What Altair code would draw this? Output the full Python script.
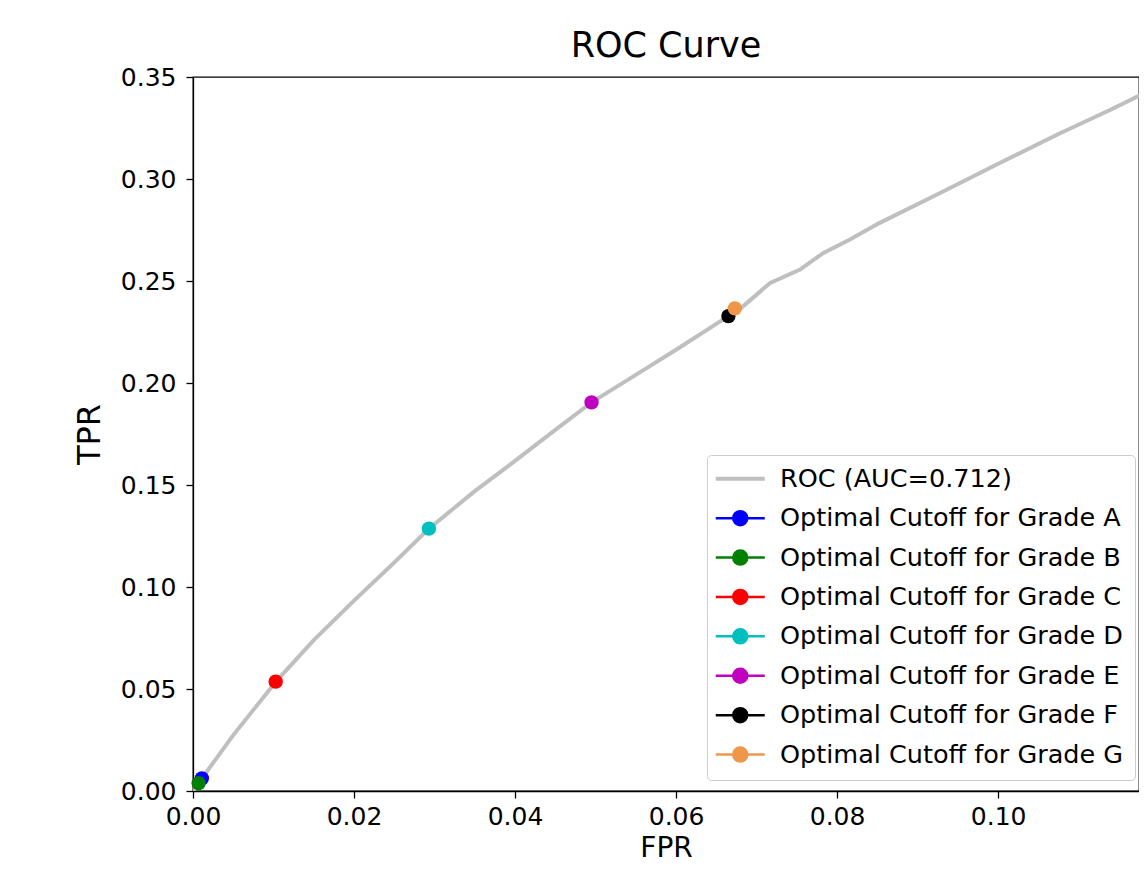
import altair as alt
import pandas as pd

# ROC curve
roc_fpr = [0.0, 0.0011, 0.0030, 0.0050, 0.0103, 0.0150, 0.0200, 0.0250, 0.0293,
           0.0350, 0.0400, 0.0450, 0.0495, 0.0550, 0.0600, 0.0665, 0.0680, 0.0717,
           0.0754, 0.0783, 0.0816, 0.0853, 0.0928, 0.1002, 0.1077, 0.1139, 0.1184]
roc_tpr = [0.0, 0.0062, 0.0165, 0.0274, 0.0536, 0.0740, 0.0933, 0.1120, 0.1286,
           0.1470, 0.1618, 0.1770, 0.1905, 0.2040, 0.2163, 0.2328, 0.2365, 0.2491,
           0.2556, 0.2638, 0.2703, 0.2785, 0.2931, 0.3078, 0.3224, 0.3338, 0.3426]
roc_label = "ROC (AUC=0.712)"

# Optimal cutoffs per grade
grades = ["A", "B", "C", "D", "E", "F", "G"]
cut_fpr = [0.0011, 0.0007, 0.01027, 0.0293, 0.0495, 0.0665, 0.0673]
cut_tpr = [0.0062, 0.0038, 0.0536, 0.1286, 0.1905, 0.2328, 0.2366]
grade_colors = ["#0000ff", "#008000", "#ff0000", "#00bfbf", "#bf00bf", "#000000", "#f0964b"]
roc_color = "#bfbfbf"

x_ticks = [0.0, 0.02, 0.04, 0.06, 0.08, 0.10]
y_ticks = [0.0, 0.05, 0.10, 0.15, 0.20, 0.25, 0.30, 0.35]
x_max = 0.1175

cut_labels = [f"Optimal Cutoff for Grade {g}" for g in grades]
domain = [roc_label] + cut_labels
colors = [roc_color] + grade_colors

roc_df = pd.DataFrame({"fpr": roc_fpr, "tpr": roc_tpr, "series": roc_label})
cut_df = pd.DataFrame({"fpr": cut_fpr, "tpr": cut_tpr, "series": cut_labels,
                       "order": list(range(len(grades)))})

FONT = "DejaVu Sans"

line_path = "M-3.5,0L3.5,0"
dot_path = "M-3.5,0L3.5,0M-1,0A1,1 0 1,1 1,0A1,1 0 1,1 -1,0Z"
is_roc = f"datum.value === '{roc_label}'"

legend = alt.Legend(
    title=None,
    orient="none",
    legendX=514,
    legendY=378,
    labelFont=FONT,
    labelFontSize=25.5,
    labelColor="#000000",
    labelLimit=600,
    symbolSize=196,
    symbolOffset=9.5,
    labelOffset=27,
    rowPadding=12.4,
    padding=11,
    strokeColor="#cccccc",
    fillColor="#ffffff",
    cornerRadius=4,
    symbolOpacity=1,
    symbolType={"expr": f"{is_roc} ? '{line_path}' : '{dot_path}'"},
    symbolFillColor={"expr": "scale('color', datum.value)"},
    symbolStrokeColor={"expr": "scale('color', datum.value)"},
    symbolStrokeWidth={"expr": f"{is_roc} ? 4 : 2.5"},
)

color_scale = alt.Scale(domain=domain, range=colors)

x_enc = alt.X("fpr:Q", title="FPR",
              scale=alt.Scale(domain=[0, x_max], nice=False, zero=True),
              axis=alt.Axis(values=x_ticks, format=".2f", labelFlush=False))
y_enc = alt.Y("tpr:Q", title="TPR",
              scale=alt.Scale(domain=[0, 0.35], nice=False),
              axis=alt.Axis(values=y_ticks, format=".2f", labelFlush=False))

roc_line = alt.Chart(roc_df).mark_line(strokeWidth=4, clip=True).encode(
    x=x_enc, y=y_enc,
    color=alt.Color("series:N", scale=color_scale, legend=legend),
)

cut_points = alt.Chart(cut_df).mark_point(filled=True, size=205, opacity=1).encode(
    x=x_enc, y=y_enc,
    color=alt.Color("series:N", scale=color_scale, legend=legend),
    order=alt.Order("order:Q"),
)

chart = alt.layer(roc_line, cut_points).properties(
    width=946,
    height=714,
    autosize=alt.AutoSizeParams(type="none"),
    padding={"left": 185, "top": 69, "right": 0, "bottom": 72},
    title=alt.Title("ROC Curve", font=FONT, fontSize=35, fontWeight="normal",
                    color="#000000", anchor="middle", offset=1),
).configure_view(
    stroke="#000000", strokeWidth=1.3
).configure_axis(
    domainColor="#000000", domainWidth=1.3,
    tickColor="#000000", tickWidth=1.3, tickSize=7,
    labelFont=FONT, labelFontSize=25, labelColor="#000000",
    titleFont=FONT, titleFontSize=32, titleFontWeight="normal", titleColor="#000000",
    grid=False,
).configure_axisX(
    labelPadding=6, titlePadding=5, titleFontSize=28,
).configure_axisY(
    labelPadding=10, titlePadding=14,
)

chart.save("out.html", embed_options={"renderer": "svg", "actions": False})
